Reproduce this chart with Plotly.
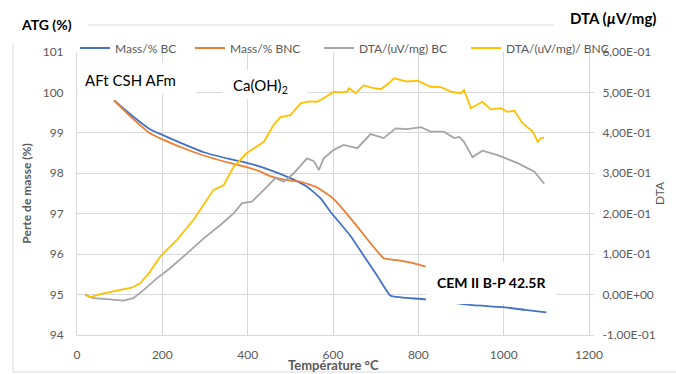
import plotly.graph_objects as go

# ---------------- data ----------------
mass_bc_T = [87, 132, 171, 200, 250, 297, 367, 398, 453, 500, 539, 571, 594, 641, 672, 704, 735, 760, 817, 870, 928, 998, 1050, 1100]
mass_bc_v = [99.80, 99.40, 99.09, 98.95, 98.72, 98.52, 98.33, 98.26, 98.08, 97.88, 97.67, 97.38, 97.05, 96.45, 95.96, 95.46, 94.97, 94.93, 94.88, 94.81, 94.74, 94.69, 94.62, 94.56]

mass_bnc_T = [87, 132, 171, 200, 250, 297, 367, 398, 430, 453, 492, 524, 563, 602, 625, 657, 688, 719, 751, 790, 817]
mass_bnc_v = [99.80, 99.34, 98.99, 98.84, 98.62, 98.44, 98.23, 98.15, 98.04, 97.93, 97.83, 97.79, 97.65, 97.36, 97.09, 96.68, 96.27, 95.90, 95.85, 95.77, 95.69]

dta_bc_T = [19, 38, 77, 109, 132, 156, 187, 218, 258, 297, 336, 367, 387, 410, 438, 465, 485, 508, 539, 555, 567, 578, 602, 625, 657, 688, 719, 747, 774, 806, 829, 860, 884, 896, 907, 927, 950, 986, 1033, 1072, 1095]
dta_bc_v = [0.0, -0.009, -0.012, -0.015, -0.009, 0.011, 0.040, 0.065, 0.102, 0.139, 0.172, 0.201, 0.226, 0.230, 0.259, 0.288, 0.279, 0.300, 0.337, 0.330, 0.308, 0.337, 0.358, 0.370, 0.362, 0.397, 0.387, 0.411, 0.409, 0.414, 0.403, 0.403, 0.387, 0.390, 0.378, 0.340, 0.356, 0.345, 0.325, 0.304, 0.274]

dta_bnc_T = [19, 31, 62, 85, 101, 128, 148, 170, 195, 234, 273, 305, 320, 344, 367, 398, 438, 461, 477, 500, 524, 545, 563, 580, 602, 620, 633, 638, 653, 672, 690, 712, 730, 743, 774, 798, 829, 853, 876, 900, 907, 923, 950, 970, 993, 1009, 1025, 1044, 1068, 1080, 1087, 1095]
dta_bnc_v = [0.0, -0.006, 0.003, 0.008, 0.011, 0.017, 0.028, 0.055, 0.094, 0.135, 0.185, 0.234, 0.259, 0.271, 0.316, 0.350, 0.378, 0.420, 0.439, 0.444, 0.473, 0.478, 0.477, 0.487, 0.502, 0.500, 0.502, 0.510, 0.498, 0.518, 0.512, 0.508, 0.522, 0.535, 0.527, 0.529, 0.514, 0.513, 0.502, 0.498, 0.506, 0.461, 0.477, 0.458, 0.461, 0.452, 0.455, 0.424, 0.403, 0.378, 0.387, 0.388]

series_names = ["Mass/% BC", "Mass/% BNC", "DTA/(uV/mg) BC", "DTA/(uV/mg)/ BNC"]
x_ticks = [0, 200, 400, 600, 800, 1000, 1200]
y_left_ticks = [94, 95, 96, 97, 98, 99, 100, 101]
y_right_ticks = [-0.1, 0.0, 0.1, 0.2, 0.3, 0.4, 0.5, 0.6]
y_right_labels = ["-1,00E-01", "0,00E+00", "1,00E-01", "2,00E-01", "3,00E-01", "4,00E-01", "5,00E-01", "6,00E-01"]

# ---------------- style ----------------
FONT = "Lato"
GRAY = "#595959"
GRID = "#d9d9d9"
W, H = 676, 374
L, R, T, B = 77, 87, 52, 39
PW, PH = W - L - R, H - T - B


def px(xp):
    return (xp - L) / PW


def py(yp):
    return (H - B - yp) / PH


legend_ids = ["legend", "legend2", "legend3", "legend4"]
legend_px = [75, 190, 319, 466]
colors = ["#4472C4", "#ED7D31", "#A5A5A5", "#FFC000"]

fig = go.Figure()
fig.add_trace(go.Scatter(x=mass_bc_T, y=mass_bc_v, name=series_names[0], mode="lines", legend=legend_ids[0],
                         line=dict(color=colors[0], width=1.8, shape="spline", smoothing=0.5)))
fig.add_trace(go.Scatter(x=mass_bnc_T, y=mass_bnc_v, name=series_names[1], mode="lines", legend=legend_ids[1],
                         line=dict(color=colors[1], width=1.8, shape="spline", smoothing=0.5)))
fig.add_trace(go.Scatter(x=dta_bc_T, y=dta_bc_v, name=series_names[2], mode="lines", yaxis="y2", legend=legend_ids[2],
                         line=dict(color=colors[2], width=1.8)))
fig.add_trace(go.Scatter(x=dta_bnc_T, y=dta_bnc_v, name=series_names[3], mode="lines", yaxis="y2", legend=legend_ids[3],
                         line=dict(color=colors[3], width=1.8)))

legends = {}
for lid, lx in zip(legend_ids, legend_px):
    legends[lid] = dict(orientation="h", x=px(lx), xanchor="left", y=py(48), yanchor="middle",
                        bgcolor="rgba(0,0,0,0)", font=dict(family=FONT, size=12, color=GRAY),
                        itemwidth=30)

fig.update_layout(
    width=W, height=H,
    margin=dict(l=L, r=R, t=T, b=B, pad=0, autoexpand=False),
    paper_bgcolor="white", plot_bgcolor="white",
    font=dict(family=FONT, size=12, color=GRAY),
    showlegend=True,
    **legends,
    xaxis=dict(range=[0, 1200], tickvals=x_ticks, showgrid=True, gridcolor=GRID, gridwidth=1,
               showline=True, linecolor=GRID, linewidth=1, zeroline=False, ticks="", automargin=False,
               ticklabelstandoff=9, tickfont=dict(size=12, color=GRAY)),
    yaxis=dict(range=[94, 101], tickvals=y_left_ticks, showgrid=True, gridcolor=GRID, gridwidth=1,
               showline=True, linecolor=GRID, linewidth=1, zeroline=False, ticks="", automargin=False,
               ticklabelstandoff=10, tickfont=dict(size=12, color=GRAY),
               title=dict(text="<b>Perte de masse (%)</b>", font=dict(size=12, color=GRAY), standoff=8)),
    yaxis2=dict(range=[-0.1, 0.6], overlaying="y", side="right", tickvals=y_right_ticks,
                ticktext=y_right_labels, showgrid=False, showline=True, linecolor=GRID, linewidth=1,
                zeroline=False, ticks="outside", ticklen=4, tickcolor=GRID, automargin=False,
                ticklabelstandoff=6, tickfont=dict(size=12, color=GRAY),
                title=dict(text="DTA", font=dict(size=12, color=GRAY), standoff=0)),
)

shapes = [
    # chart-area border
    dict(type="rect", xref="paper", yref="paper", x0=px(13), x1=px(690), y0=py(372), y1=py(25),
         line=dict(color=GRID, width=1), fillcolor="rgba(0,0,0,0)", layer="above"),
]
boxes = [(0, 88, 8, 43), (554, 676, 0, 38), (78, 196, 62, 94), (222, 307, 70, 99), (426, 556, 262, 304)]
for x0, x1, y0, y1 in boxes:
    shapes.append(dict(type="rect", xref="paper", yref="paper", x0=px(x0), x1=px(x1), y0=py(y1), y1=py(y0),
                       line=dict(width=0), fillcolor="white", layer="above"))
fig.update_layout(shapes=shapes)

labels = [
    ("<b>ATG (%)</b>", 46, 25, 14, "black"),
    ("<b>DTA (<i>µ</i>V/mg)</b>", 613, 18, 15, "black"),
    ("AFt CSH AFm", 130, 80, 15, "black"),
    ("Ca(OH)<sub>2</sub>", 260, 86, 15, "black"),
    ("<b>CEM II B-P 42.5R</b>", 491, 282, 14, "black"),
    ("<b>Température °C</b>", 333, 365, 13, GRAY),
]
for text, x, y, size, col in labels:
    fig.add_annotation(text=text, xref="paper", yref="paper", x=px(x), y=py(y), xanchor="center",
                       yanchor="middle", showarrow=False, font=dict(family=FONT, size=size, color=col))

fig.write_html("out.html")
